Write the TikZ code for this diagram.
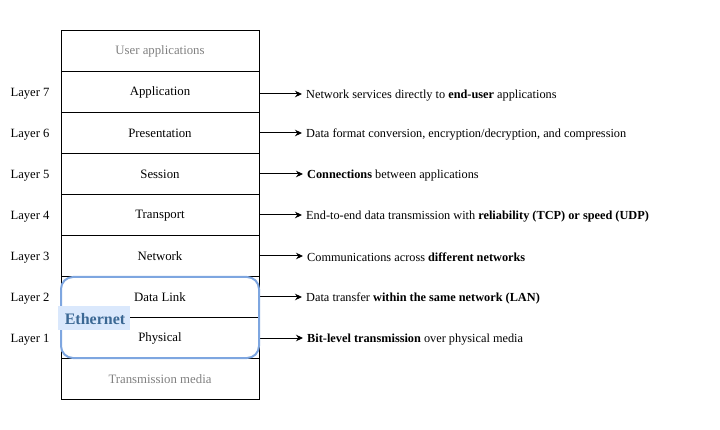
\documentclass[tikz,border=0pt]{standalone}
\usepackage{fontspec}
\setmainfont{Liberation Serif}
\usetikzlibrary{arrows.meta}
\definecolor{ethblue}{HTML}{7EA6E0}
\definecolor{ethfill}{HTML}{DAE8FC}
\definecolor{ethtext}{HTML}{3B6894}
\definecolor{mediagray}{HTML}{808080}
\tikzset{
  layerrow/.style={draw=black, line width=1pt, minimum width=198pt, minimum height=41pt, inner sep=0pt, font=\fontsize{12.8}{14}\selectfont, anchor=north west},
  rowtext/.style={font=\fontsize{12.8}{14}\selectfont, anchor=center, inner sep=0pt},
  graytext/.style={text=mediagray},
  layerlab/.style={font=\fontsize{12.6}{14}\selectfont, anchor=center, inner sep=0pt},
  desc/.style={font=\fontsize{12.3}{14}\selectfont, anchor=west, inner sep=0pt},
  arr/.style={draw=black, line width=1pt, -{Stealth[length=7pt,width=6.5pt]}},
}
\begin{document}
\begin{tikzpicture}[x=1pt,y=-1pt]
\useasboundingbox (0,0) rectangle (720,430);
\node[layerrow] (user) at (61,30) {};
\node[layerrow] (l7) at (61,71) {};
\node[layerrow] (l6) at (61,112) {};
\node[layerrow] (l5) at (61,153) {};
\node[layerrow] (l4) at (61,194) {};
\node[layerrow] (l3) at (61,235) {};
\node[layerrow] (l2) at (61,276) {};
\node[layerrow] (l1) at (61,317) {};
\node[layerrow] (media) at (61,358) {};
\node[rowtext,graytext] (tuser) at (160,51.5) {User applications};
\node[rowtext] (t7) at (160,92.5) {Application};
\node[rowtext] (t6) at (160,133.5) {Presentation};
\node[rowtext] (t5) at (160,174.5) {Session};
\node[rowtext] (t4) at (160,215.5) {Transport};
\node[rowtext] (t3) at (160,256.5) {Network};
\node[rowtext] (t2) at (160,297.5) {Data Link};
\node[rowtext] (t1) at (160,338.5) {Physical};
\node[rowtext,graytext] (tmedia) at (160,379.5) {Transmission media};
% Layer labels
\node[layerlab] (n7) at (30,94) {Layer 7};
\node[layerlab] (n6) at (30,135) {Layer 6};
\node[layerlab] (n5) at (30,176) {Layer 5};
\node[layerlab] (n4) at (30,217) {Layer 4};
\node[layerlab] (n3) at (30,258) {Layer 3};
\node[layerlab] (n2) at (30,299) {Layer 2};
\node[layerlab] (n1) at (30,340) {Layer 1};
% Descriptions
\node[desc] (d7) at (306,95.5) {Network services directly to \textbf{end-user} applications};
\node[desc] (d6) at (306,134.5) {Data format conversion, encryption/decryption, and compression};
\node[desc] (d5) at (307,175.5) {\textbf{Connections} between applications};
\node[desc] (d4) at (306,216.5) {End-to-end data transmission with \textbf{reliability (TCP) or speed (UDP)}};
\node[desc] (d3) at (307,257.5) {Communications across \textbf{different networks}};
\node[desc] (d2) at (306,298.5) {Data transfer \textbf{within the same network (LAN)}};
\node[desc] (d1) at (307,339.5) {\textbf{Bit-level transmission} over physical media};
% Arrows
\draw[arr] (259,94) -- ([xshift=-4pt,yshift=1.5pt]d7.west);
\draw[arr] (259,133) -- ([xshift=-4pt,yshift=1.5pt]d6.west);
\draw[arr] (259,174) -- ([xshift=-4pt,yshift=1.5pt]d5.west);
\draw[arr] (259,215) -- ([xshift=-4pt,yshift=1.5pt]d4.west);
\draw[arr] (259,256) -- ([xshift=-4pt,yshift=1.5pt]d3.west);
\draw[arr] (259,297) -- ([xshift=-4pt,yshift=1.5pt]d2.west);
\draw[arr] (259,338) -- ([xshift=-4pt,yshift=1.5pt]d1.west);
% Ethernet group
\draw[ethblue, line width=2pt, rounded corners=12pt] (61,277) rectangle (259,358);
\node[fill=ethfill, minimum width=72pt, minimum height=24pt, inner sep=0pt, anchor=west] (ethbg) at (58,318) {};
\node[text=ethtext, font=\fontsize{16}{18}\selectfont\bfseries, inner sep=0pt] (eth) at (95,319.5) {Ethernet};
\end{tikzpicture}
\end{document}
